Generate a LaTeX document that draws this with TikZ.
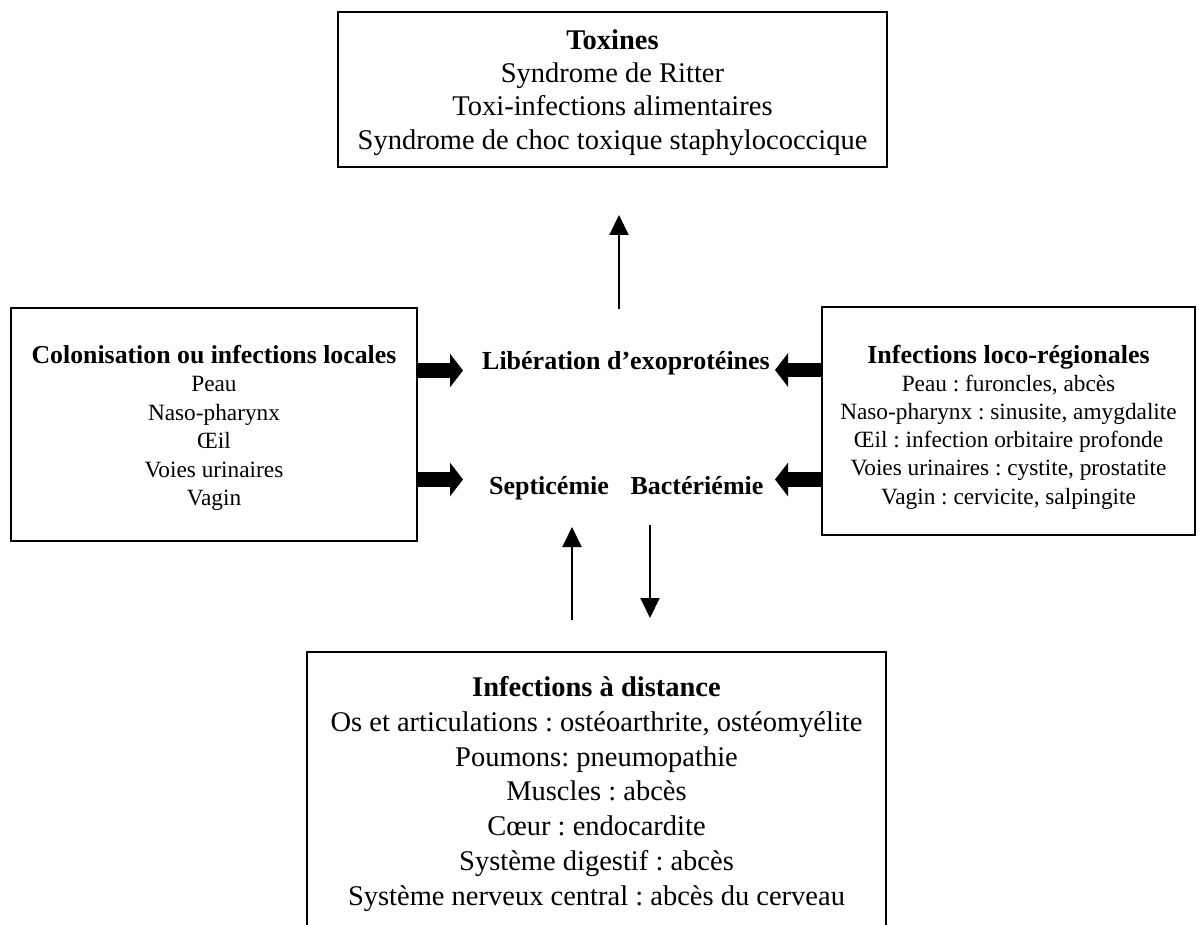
\documentclass[tikz,border=0pt]{standalone}
\usepackage{fontspec}
\setmainfont{Liberation Serif}
\usetikzlibrary{arrows.meta}
\frenchspacing
\begin{document}
\begin{tikzpicture}[x=1pt,y=-1pt,
  box/.style={draw=black,line width=1.8pt,inner sep=0pt,anchor=center},
  txt/.style={inner sep=0pt,align=center,anchor=center},
  lab/.style={font=\fontsize{26}{30}\selectfont\bfseries,inner sep=0pt,anchor=base},
  fatarrow/.style={line width=14.5pt,-{Triangle[width=33pt,length=13pt]}},
  thinarrow/.style={line width=2pt,-{Triangle[width=19pt,length=20pt]}}]
\useasboundingbox (0,0) rectangle (1200,925);
\clip (0,0) rectangle (1200,925);
\fill[white] (0,0) rectangle (1200,925);
% boxes
\node[box,minimum width=549pt,minimum height=155pt] (tox) at (612.5,89.5) {};
\node[txt,font=\fontsize{28.5}{33.3}\selectfont] (toxt) at ([yshift=-3pt]tox.center)
  {\textbf{Toxines}\\Syndrome de Ritter\\Toxi-infections alimentaires\\Syndrome de choc toxique staphylococcique};
\node[box,minimum width=406pt,minimum height=233pt] (loc) at (214,424.5) {};
\node[txt,font=\fontsize{23.3}{28.4}\selectfont] (loct) at ([yshift=-3.5pt]loc.center)
  {{\fontsize{25.8}{28.4}\selectfont\bfseries Colonisation ou infections locales}\\Peau\\Naso-pharynx\\Œil\\Voies urinaires\\Vagin};
\node[box,minimum width=373pt,minimum height=228pt] (reg) at (1008.5,421) {};
\node[txt,font=\fontsize{23.3}{28.2}\selectfont] (regt) at ([yshift=-6pt]reg.center)
  {{\fontsize{26}{28.2}\selectfont\bfseries Infections loco-régionales}\\Peau : furoncles, abcès\\Naso-pharynx : sinusite, amygdalite\\Œil : infection orbitaire profonde\\Voies urinaires : cystite, prostatite\\Vagin : cervicite, salpingite};
\node[box,minimum width=579pt,minimum height=278pt] (dist) at (596.5,791) {};
\node[txt,font=\fontsize{28.5}{34.7}\selectfont] (distt) at ([yshift=-3pt]dist.center)
  {\textbf{Infections à distance}\\Os et articulations : ostéoarthrite, ostéomyélite\\Poumons: pneumopathie\\Muscles : abcès\\Cœur : endocardite\\Système digestif : abcès\\Système nerveux central : abcès du cerveau};
% centre labels
\node[lab] (lib) at (626,370) {Libération d’exoprotéines};
\node[lab] (sept) at (549,494) {Septicémie};
\node[lab] (bact) at (697,494) {Bactériémie};
% fat arrows
\coordinate (la1) at (463,370.5);
\coordinate (la2) at (463,479.5);
\coordinate (ra1) at (775,370);
\coordinate (ra2) at (775,479.5);
\draw[fatarrow] (loc.east |- la1) -- (la1);
\draw[fatarrow] (loc.east |- la2) -- (la2);
\draw[fatarrow] (reg.west |- ra1) -- (ra1);
\draw[fatarrow] (reg.west |- ra2) -- (ra2);
% thin arrows
\coordinate (t0) at (619,309);
\coordinate (t1) at (619,215);
\coordinate (u0) at (572,620);
\coordinate (u1) at (572,527);
\coordinate (d0) at (650,525);
\coordinate (d1) at (650,618);
\draw[thinarrow] (t0) -- (t1);
\draw[thinarrow] (u0) -- (u1);
\draw[thinarrow] (d0) -- (d1);
\end{tikzpicture}
\end{document}
